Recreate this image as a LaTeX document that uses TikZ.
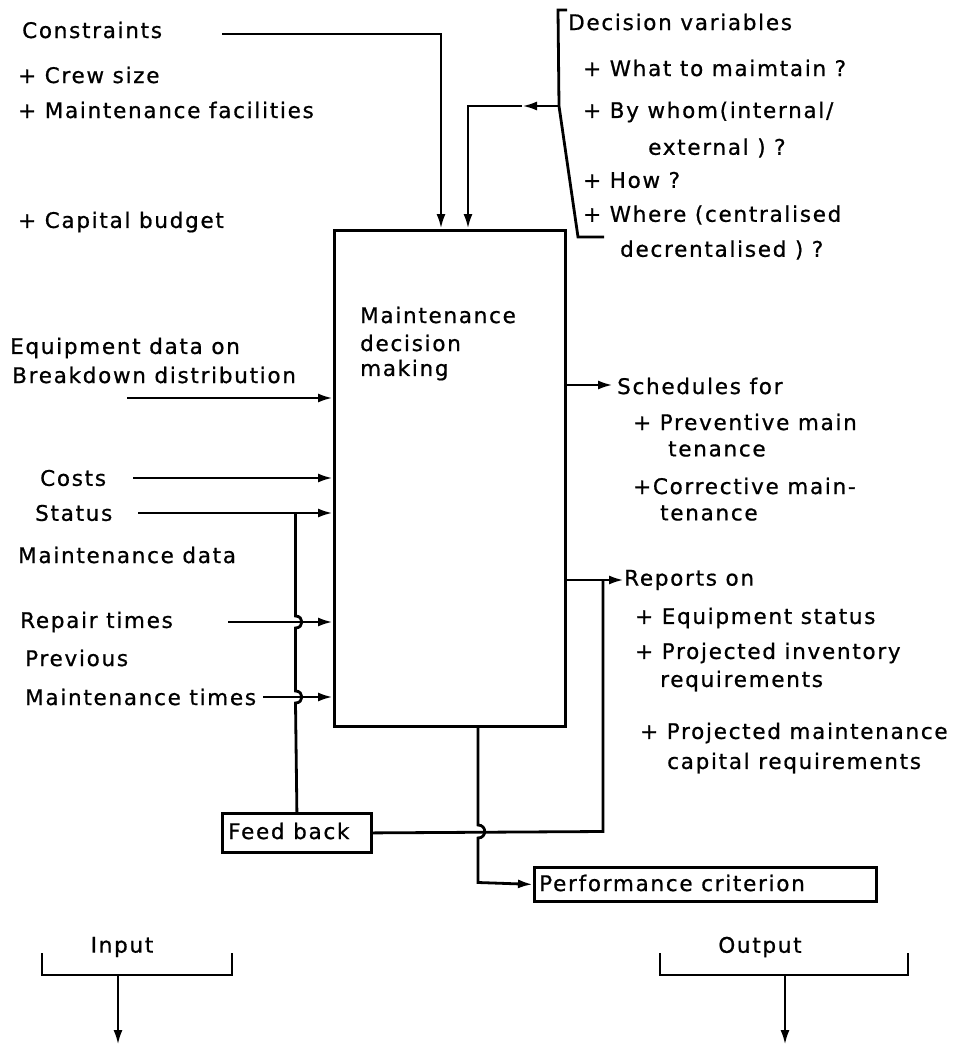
\documentclass[tikz,border=0pt]{standalone}
\usepackage{fontspec}
\setmainfont{DejaVu Sans}[LetterSpace=8, FakeBold=0.8]
\usetikzlibrary{arrows.meta,calc}
\begin{document}
\begin{tikzpicture}[x=1pt,y=-1pt,
  every node/.style={inner sep=0pt, font=\fontsize{21.5}{26}\selectfont},
  txt/.style={anchor=west},
  ln/.style={line width=2.8pt},
  arr/.style={ln, -{Latex[length=15pt,width=9pt]}},
  boxst/.style={draw, line width=2.8pt},
]
\useasboundingbox (0,0) rectangle (960,1049);

% main box
\node[boxst, minimum width=231pt, minimum height=496pt, anchor=north west] (box) at (333,229) {};
\node[txt] (bl1) at (360,315) {Maintenance};
\node[txt] (bl2) at (360,343) {decision};
\node[txt] (bl3) at (360,370) {making};

% left texts
\node[txt] (t1) at (22,30) {Constraints};
\node[txt] (t2) at (18,75) {+ Crew size};
\node[txt] (t3) at (18,110) {+ Maintenance facilities};
\node[txt] (t4) at (18,222) {+ Capital budget};
\node[txt] (t5) at (10,348) {Equipment data on};
\node[txt] (t6) at (12,375) {Breakdown distribution};
\node[txt] (t7) at (40,478) {Costs};
\node[txt] (t8) at (35,513) {Status};
\node[txt] (t9) at (18,555) {Maintenance data};
\node[txt] (t10) at (20,622) {Repair times};
\node[txt] (t11) at (25,658) {Previous};
\node[txt] (t12) at (25,697) {Maintenance times};

% decision variables
\node[txt] (d0) at (568,22) {Decision variables};
\node[txt] (d1) at (583,68) {+ What to maimtain ?};
\node[txt] (d2) at (583,112) {+ By whom(internal/};
\node[txt] (d3) at (648,148) {external ) ?};
\node[txt] (d4) at (583,180) {+ How ?};
\node[txt] (d5) at (583,215) {+ Where (centralised};
\node[txt] (d6) at (620,250) {decrentalised ) ?};

% outputs
\node[txt] (s0) at (617,386) {Schedules for};
\node[txt] (s1) at (633,422) {+ Preventive main};
\node[txt] (s2) at (668,449) {tenance};
\node[txt] (s3) at (633,486) {+Corrective main-};
\node[txt] (s4) at (660,513) {tenance};
\node[txt] (r0) at (624,580) {Reports on};
\node[txt] (r1) at (635,618) {+ Equipment status};
\node[txt] (r2) at (635,653) {+ Projected inventory};
\node[txt] (r3) at (660,681) {requirements};
\node[txt] (r4) at (640,733) {+ Projected maintenance};
\node[txt] (r5) at (667,763) {capital requirements};

% feedback and performance boxes
\node[boxst, minimum width=149pt, minimum height=39pt, anchor=north west] (fb) at (221,812) {};
\node[txt] (fbt) at (228,831) {Feed back};
\node[boxst, minimum width=342pt, minimum height=34pt, anchor=north west] (pc) at (533,866) {};
\node[txt] (pct) at (539,883) {Performance criterion};

% input / output
\node (inp) at (122,947) {Input};
\node (outp) at (760,947) {Output};

% coordinates
\coordinate (cA) at (222,34);
\coordinate (cAt) at ($(box.north west)+(108,0)$);
\coordinate (dv) at (559,106);
\coordinate (dvm) at (522,106);
\coordinate (dvt) at ($(box.north west)+(135,0)$);

% constraints arrow
\draw[arr] (cA) -| (cAt);
% decision variables bracket and arrow
\draw[ln] (567,10) -- (558,10) -- (dv) -- (578,237) -- (604,237);
\draw[arr] (dv) -- (dvm);
\draw[arr] (dvm) -| (dvt);

% input arrows
\draw[arr] (127,398) -- ($(box.north west)+(0,169)$);
\draw[arr] (133,478) -- ($(box.north west)+(0,249)$);
\draw[arr] (138,513) -- ($(box.north west)+(0,284)$);
\draw[arr] (228,622) -- ($(box.north west)+(0,393)$);
\draw[arr] (263,697) -- ($(box.north west)+(0,468)$);

% feedback line from feedback box to status line (with jumps)
\draw[ln] (fb.north) -- (295.5,703) .. controls (304,703) and (304,691) .. (295.5,691)
  -- (295.5,628) .. controls (304,628) and (304,616) .. (295.5,616) -- (295.5,513);

% output arrows
\draw[arr] ($(box.north east)+(0,156)$) -- (613,385);
\draw[arr] ($(box.north east)+(0,351)$) -- (r0.west);
\draw[ln] (fb.east) -- (603,831.5) -- (603,580);

% performance line with jump
\draw[arr] (478,725) -- (478,825) .. controls (487,825) and (487,838) .. (478,838) -- (478,882.5) -- (pc.west);

% input / output brackets
\draw[ln] (42,953) -- (42,975) -- (232,975) -- (232,953);
\draw[arr] (118,975) -- (118,1045);
\draw[ln] (660,953) -- (660,975) -- (908,975) -- (908,953);
\draw[arr] (785,975) -- (785,1045);
\end{tikzpicture}
\end{document}
